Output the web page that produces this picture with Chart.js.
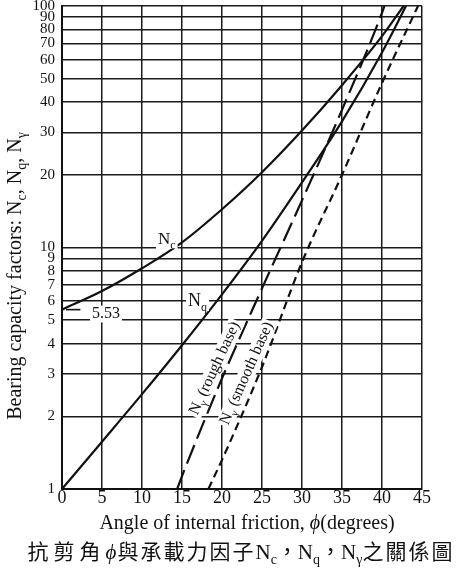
<!DOCTYPE html>
<html>
<head>
<meta charset="utf-8">
<script src="https://cdn.jsdelivr.net/npm/chart.js@4.4.0/dist/chart.umd.min.js"></script>
<style>
html, body { margin: 0; padding: 0; background: #fff; }
#wrap { width: 464px; height: 575px; }
</style>
</head>
<body>
<div id="wrap"><canvas id="chart" width="464" height="575"></canvas></div>
<script>
// angle of internal friction (deg) and bearing capacity factors
const phiNc = [0, 5, 10, 15, 20, 25, 30, 35, 40, 42.7];
const valNc = [5.53, 6.6, 8.2, 10.5, 14.4, 20.5, 30.5, 47, 75, 100];

const phiNq = [0, 5, 10, 15, 20, 25, 30, 35, 40, 43];
const valNq = [1, 1.57, 2.47, 3.94, 6.4, 10.66, 18.6, 33.3, 64.2, 100];

const phiNgRough = [14.4, 15, 20, 25, 30, 35, 40, 40.3];
const valNgRough = [1, 1.13, 2.87, 6.77, 15.67, 37.15, 93.7, 100];

const phiNgSmooth = [18.3, 20, 25, 30, 35, 40, 44.5];
const valNgSmooth = [1, 1.32, 3.2, 8.7, 20, 48, 100];

const xTicks = [0, 5, 10, 15, 20, 25, 30, 35, 40, 45];
const yTicks = [1, 2, 3, 4, 5, 6, 7, 8, 9, 10, 20, 30, 40, 50, 60, 70, 80, 90, 100];

const serif = '"Liberation Serif", "DejaVu Serif", serif';
const cjk = '"Noto Sans CJK TC", "Noto Sans CJK SC", sans-serif';
const ink = '#111';

const toPoints = (xs, ys) => xs.map((x, i) => ({ x: x, y: ys[i] }));

// N with a subscript, as text parts
function subN(sub, size) {
    return [
        { t: 'N', f: size + 'px ' + serif },
        { t: sub, f: Math.round(size * 0.68) + 'px ' + serif, dy: size * 0.25 }
    ];
}

// one part per character, with extra spacing
function spaced(str, font, gap) {
    return str.split('').map(ch => ({ t: ch, f: font, gap: gap }));
}

function richWidth(ctx, parts) {
    let w = 0;
    parts.forEach(p => {
        ctx.font = p.f;
        w += ctx.measureText(p.t).width + (p.gap || 0);
    });
    return w;
}

// draw parts left to right starting at x, baseline y
function drawRich(ctx, parts, x, y) {
    let cx = x;
    parts.forEach(p => {
        ctx.font = p.f;
        ctx.fillText(p.t, cx, y + (p.dy || 0));
        cx += ctx.measureText(p.t).width + (p.gap || 0);
    });
    return cx - x;
}

function whiteBox(ctx, x, y, w, size) {
    ctx.fillStyle = '#fff';
    ctx.fillRect(x - 2, y - size * 0.78, w + 4, size * 1.05);
    ctx.fillStyle = ink;
}

const annotations = {
    id: 'annotations',
    afterDatasetsDraw(chart) {
        const ctx = chart.ctx;
        const xs = chart.scales.x, ys = chart.scales.y;
        ctx.save();
        ctx.textBaseline = 'alphabetic';
        ctx.textAlign = 'left';
        ctx.fillStyle = ink;

        // Nc label
        let parts = subN('c', 17);
        let px = xs.getPixelForValue(12), py = ys.getPixelForValue(10.3);
        whiteBox(ctx, px, py, richWidth(ctx, parts), 17);
        drawRich(ctx, parts, px, py);

        // Nq label
        parts = subN('q', 18);
        px = xs.getPixelForValue(15.75); py = ys.getPixelForValue(5.72);
        whiteBox(ctx, px, py, richWidth(ctx, parts), 18);
        drawRich(ctx, parts, px, py);

        // 5.53 with leader line
        const y553 = ys.getPixelForValue(5.53);
        ctx.strokeStyle = ink;
        ctx.lineWidth = 1.6;
        ctx.beginPath();
        ctx.moveTo(xs.getPixelForValue(0.5), y553);
        ctx.lineTo(xs.getPixelForValue(2.3), y553);
        ctx.stroke();
        parts = [{ t: '5.53', f: '16px ' + serif }];
        px = xs.getPixelForValue(3.75); py = ys.getPixelForValue(5.1);
        whiteBox(ctx, px, py, richWidth(ctx, parts), 16);
        drawRich(ctx, parts, px, py);

        // rotated N-gamma labels
        const rotLabel = (text, phi, val, angle) => {
            const p = subN('\u03b3', 16).concat([{ t: text, f: '16px ' + serif }]);
            const w = richWidth(ctx, p);
            ctx.save();
            ctx.translate(xs.getPixelForValue(phi), ys.getPixelForValue(val));
            ctx.rotate(angle * Math.PI / 180);
            whiteBox(ctx, -w / 2, 5, w, 16);
            drawRich(ctx, p, -w / 2, 5);
            ctx.restore();
        };
        rotLabel(' (rough base)', 19, 3.17, -65);
        rotLabel(' (smooth base)', 23, 3.02, -66);
        ctx.restore();
    },
    afterDraw(chart) {
        const ctx = chart.ctx;
        ctx.save();
        ctx.fillStyle = ink;
        ctx.textBaseline = 'alphabetic';

        // y axis title
        const s = 20;
        let parts = [{ t: 'Bearing capacity factors: ', f: s + 'px ' + serif }]
            .concat(subN('c', s), [{ t: ', ', f: s + 'px ' + serif }],
                    subN('q', s), [{ t: ', ', f: s + 'px ' + serif }],
                    subN('\u03b3', s));
        let w = richWidth(ctx, parts);
        ctx.save();
        ctx.translate(21, 276);
        ctx.rotate(-Math.PI / 2);
        drawRich(ctx, parts, -w / 2, 0);
        ctx.restore();

        // x axis title
        parts = [
            { t: 'Angle of internal friction, ', f: '20px ' + serif },
            { t: '\u03d5', f: 'italic 20px ' + serif },
            { t: '(degrees)', f: '20px ' + serif }
        ];
        w = richWidth(ctx, parts);
        drawRich(ctx, parts, 247 - w / 2, 529);

        // chinese caption
        const cf = '21px ' + cjk;
        parts = spaced('抗剪角', cf, 5)
            .concat([{ t: '\u03d5', f: 'italic 21px ' + serif, gap: 1 }],
                    spaced('與承載力因子', cf, 2),
                    subN('c', 21), [{ t: '，', f: cf }],
                    subN('q', 21), [{ t: '，', f: cf }],
                    subN('\u03b3', 21), spaced('之關係圖', cf, 2));
        w = richWidth(ctx, parts);
        drawRich(ctx, parts, 241 - w / 2, 559);
        ctx.restore();
    }
};

new Chart(document.getElementById('chart'), {
    type: 'scatter',
    data: {
        datasets: [
            {
                label: 'Nc',
                data: toPoints(phiNc, valNc),
                showLine: true,
                borderColor: ink,
                borderWidth: 2.2,
                pointRadius: 0,
                cubicInterpolationMode: 'monotone'
            },
            {
                label: 'Nq',
                data: toPoints(phiNq, valNq),
                showLine: true,
                borderColor: ink,
                borderWidth: 2.2,
                pointRadius: 0,
                cubicInterpolationMode: 'monotone'
            },
            {
                label: 'Ngamma (rough base)',
                data: toPoints(phiNgRough, valNgRough),
                showLine: true,
                borderColor: ink,
                borderWidth: 2.2,
                borderDash: [20, 7],
                pointRadius: 0,
                cubicInterpolationMode: 'monotone'
            },
            {
                label: 'Ngamma (smooth base)',
                data: toPoints(phiNgSmooth, valNgSmooth),
                showLine: true,
                borderColor: ink,
                borderWidth: 2.2,
                borderDash: [8, 5],
                pointRadius: 0,
                cubicInterpolationMode: 'monotone'
            }
        ]
    },
    options: {
        responsive: false,
        animation: false,
        devicePixelRatio: 1,
        layout: { padding: { top: 6, right: 42, left: 0, bottom: 0 } },
        plugins: {
            legend: { display: false },
            tooltip: { enabled: false }
        },
        scales: {
            x: {
                type: 'linear',
                min: 0,
                max: 45,
                afterBuildTicks: s => { s.ticks = xTicks.map(v => ({ value: v })); },
                afterFit: s => { s.height = 86; },
                ticks: {
                    color: ink,
                    font: { family: serif, size: 18 },
                    padding: -2,
                    maxRotation: 0,
                    callback: v => String(v)
                },
                grid: { color: '#1a1a1a', lineWidth: 1.5, drawTicks: false },
                border: { display: true, color: ink, width: 2 }
            },
            y: {
                type: 'logarithmic',
                min: 1,
                max: 100,
                afterBuildTicks: s => { s.ticks = yTicks.map(v => ({ value: v })); },
                afterFit: s => {
                    s.width = 62;
                    s.paddingTop = 0;
                    s.paddingBottom = 0;
                },
                ticks: {
                    color: ink,
                    font: { family: serif, size: 15 },
                    padding: 7,
                    autoSkip: false,
                    callback: v => String(v)
                },
                grid: { color: '#1a1a1a', lineWidth: 1.5, drawTicks: false },
                border: { display: true, color: ink, width: 2 }
            }
        }
    },
    plugins: [annotations]
});
</script>
</body>
</html>
